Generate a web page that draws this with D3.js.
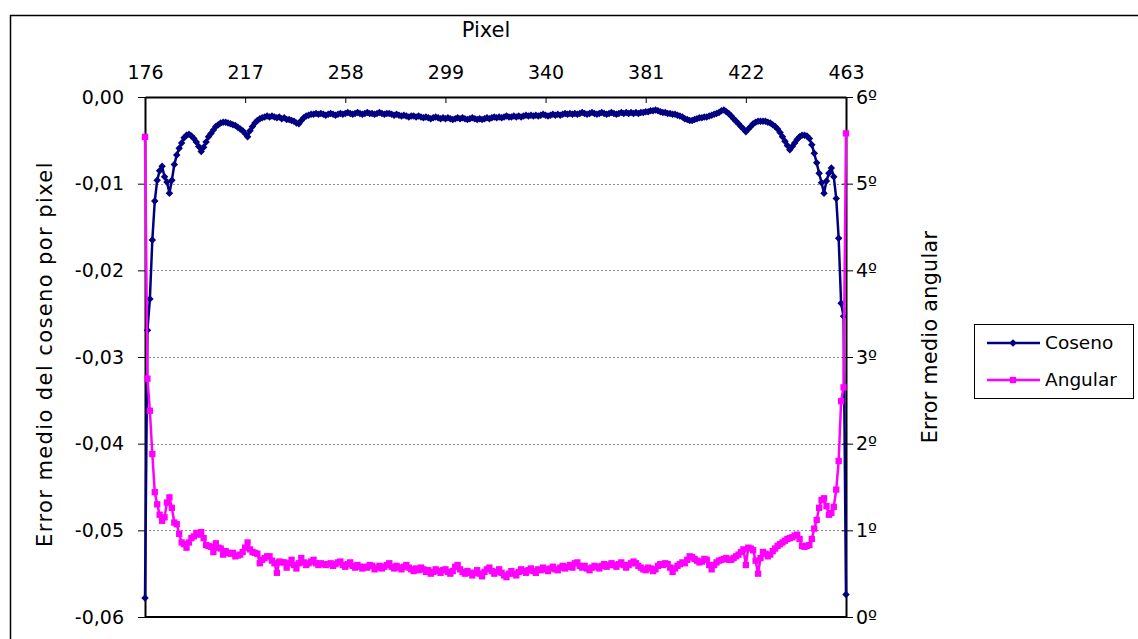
<!DOCTYPE html>
<html>
<head>
<meta charset="utf-8">
<script src="https://cdn.jsdelivr.net/npm/d3@7"></script>
<style>
  body { margin: 0; background: #fff; }
  text { font-family: "DejaVu Sans", Verdana, sans-serif; fill: #000; }
</style>
</head>
<body>
<svg id="chart" width="1138" height="639"></svg>
<script>
// ---------- data ----------
const pixels = d3.range(176, 464);            // 288 categories

const coseno = [
  -0.0578, -0.0269, -0.0233, -0.0165, -0.0120, -0.0096, -0.0085, -0.0080, -0.0092, -0.0098,
  -0.0111, -0.0096, -0.0078, -0.0067, -0.0059, -0.0053, -0.0047, -0.0044, -0.0043, -0.0045,
  -0.0048, -0.0052, -0.0057, -0.0063, -0.0058, -0.0052, -0.0046, -0.0042, -0.0038, -0.0034,
  -0.0032, -0.0030, -0.0029, -0.0029, -0.0030, -0.0031, -0.0032, -0.0033, -0.0035, -0.0037,
  -0.0039, -0.0042, -0.0046, -0.0039, -0.0034, -0.0030, -0.0027, -0.0025, -0.0024, -0.0023,
  -0.0022, -0.0023, -0.0022, -0.0023, -0.0024, -0.0023, -0.0025, -0.0024, -0.0026, -0.0026,
  -0.0027, -0.0028, -0.0030, -0.0031, -0.0027, -0.0024, -0.0022, -0.0021, -0.0020, -0.0020,
  -0.0019, -0.0020, -0.0019, -0.0020, -0.0021, -0.0020, -0.0019, -0.0020, -0.0021, -0.0020,
  -0.0019, -0.0020, -0.0019, -0.0018, -0.0019, -0.0020, -0.0019, -0.0018, -0.0019, -0.0020,
  -0.0019, -0.0018, -0.0019, -0.0019, -0.0020, -0.0019, -0.0018, -0.0019, -0.0020, -0.0019,
  -0.0019, -0.0020, -0.0021, -0.0020, -0.0021, -0.0022, -0.0021, -0.0022, -0.0023, -0.0022,
  -0.0022, -0.0023, -0.0022, -0.0023, -0.0024, -0.0023, -0.0024, -0.0025, -0.0024, -0.0023,
  -0.0024, -0.0025, -0.0024, -0.0025, -0.0024, -0.0025, -0.0026, -0.0025, -0.0024, -0.0025,
  -0.0024, -0.0025, -0.0026, -0.0025, -0.0024, -0.0025, -0.0026, -0.0025, -0.0026, -0.0025,
  -0.0024, -0.0025, -0.0024, -0.0023, -0.0024, -0.0023, -0.0024, -0.0023, -0.0022, -0.0023,
  -0.0023, -0.0022, -0.0023, -0.0022, -0.0023, -0.0022, -0.0021, -0.0022, -0.0021, -0.0022,
  -0.0021, -0.0022, -0.0021, -0.0020, -0.0021, -0.0022, -0.0021, -0.0020, -0.0021, -0.0020,
  -0.0021, -0.0020, -0.0019, -0.0020, -0.0019, -0.0020, -0.0019, -0.0020, -0.0019, -0.0018,
  -0.0019, -0.0020, -0.0019, -0.0018, -0.0019, -0.0020, -0.0019, -0.0018, -0.0019, -0.0020,
  -0.0019, -0.0018, -0.0019, -0.0020, -0.0019, -0.0018, -0.0019, -0.0018, -0.0019, -0.0018,
  -0.0019, -0.0018, -0.0019, -0.0018, -0.0018, -0.0017, -0.0017, -0.0016, -0.0016, -0.0015,
  -0.0016, -0.0017, -0.0018, -0.0018, -0.0019, -0.0019, -0.0020, -0.0020, -0.0021, -0.0022,
  -0.0023, -0.0025, -0.0026, -0.0027, -0.0027, -0.0026, -0.0025, -0.0024, -0.0024, -0.0023,
  -0.0023, -0.0022, -0.0021, -0.0020, -0.0019, -0.0018, -0.0016, -0.0015, -0.0017, -0.0019,
  -0.0022, -0.0025, -0.0028, -0.0031, -0.0034, -0.0037, -0.0040, -0.0037, -0.0034, -0.0031,
  -0.0029, -0.0028, -0.0028, -0.0028, -0.0028, -0.0029, -0.0030, -0.0032, -0.0034, -0.0037,
  -0.0041, -0.0046, -0.0051, -0.0056, -0.0061, -0.0057, -0.0053, -0.0049, -0.0046, -0.0044,
  -0.0044, -0.0045, -0.0048, -0.0055, -0.0065, -0.0076, -0.0088, -0.0099, -0.0111, -0.0097,
  -0.0088, -0.0082, -0.0092, -0.0117, -0.0163, -0.0238, -0.0253, -0.0574
];

const angular = [
  5.54, 2.75, 2.38, 1.88, 1.44, 1.30, 1.18, 1.11, 1.15, 1.32,
  1.38, 1.26, 1.09, 1.07, 0.96, 0.86, 0.84, 0.80, 0.86, 0.91,
  0.93, 0.97, 0.95, 0.98, 0.91, 0.83, 0.82, 0.81, 0.75, 0.85,
  0.80, 0.79, 0.72, 0.76, 0.74, 0.73, 0.74, 0.70, 0.71, 0.72,
  0.75, 0.80, 0.86, 0.78, 0.75, 0.74, 0.73, 0.62, 0.66, 0.68,
  0.70, 0.70, 0.65, 0.62, 0.51, 0.64, 0.63, 0.63, 0.57, 0.62,
  0.66, 0.60, 0.56, 0.62, 0.68, 0.63, 0.60, 0.62, 0.64, 0.66,
  0.62, 0.60, 0.62, 0.61, 0.60, 0.61, 0.62, 0.59, 0.61, 0.63,
  0.64, 0.60, 0.58, 0.61, 0.63, 0.59, 0.57, 0.60, 0.58, 0.56,
  0.58, 0.57, 0.60, 0.59, 0.55, 0.57, 0.59, 0.56, 0.58, 0.60,
  0.62, 0.58, 0.56, 0.59, 0.57, 0.55, 0.58, 0.60, 0.57, 0.55,
  0.53, 0.56, 0.54, 0.57, 0.55, 0.52, 0.54, 0.50, 0.52, 0.55,
  0.53, 0.51, 0.54, 0.55, 0.52, 0.50, 0.53, 0.58, 0.60, 0.55,
  0.52, 0.50, 0.53, 0.51, 0.48, 0.51, 0.54, 0.50, 0.47, 0.52,
  0.55, 0.57, 0.53, 0.50, 0.52, 0.55, 0.51, 0.48, 0.46, 0.50,
  0.53, 0.50, 0.48, 0.52, 0.55, 0.53, 0.51, 0.54, 0.56, 0.53,
  0.51, 0.55, 0.54, 0.57, 0.55, 0.53, 0.56, 0.58, 0.55, 0.54,
  0.57, 0.59, 0.56, 0.58, 0.60, 0.57, 0.62, 0.63, 0.59, 0.57,
  0.59, 0.56, 0.54, 0.57, 0.59, 0.58, 0.56, 0.59, 0.61, 0.58,
  0.60, 0.62, 0.60, 0.58, 0.61, 0.63, 0.60, 0.57, 0.60, 0.62,
  0.64, 0.62, 0.59, 0.57, 0.55, 0.54, 0.57, 0.56, 0.53, 0.55,
  0.59, 0.61, 0.60, 0.62, 0.61, 0.57, 0.52, 0.56, 0.59, 0.61,
  0.63, 0.62, 0.66, 0.70, 0.69, 0.67, 0.65, 0.63, 0.64, 0.67,
  0.66, 0.60, 0.55, 0.60, 0.63, 0.65, 0.66, 0.67, 0.68, 0.66,
  0.66, 0.68, 0.70, 0.72, 0.75, 0.78, 0.60, 0.80, 0.79, 0.77,
  0.65, 0.50, 0.68, 0.75, 0.73, 0.70, 0.72, 0.76, 0.79, 0.82,
  0.84, 0.86, 0.88, 0.90, 0.91, 0.92, 0.94, 0.95, 0.90, 0.82,
  0.81, 0.82, 0.83, 0.90, 1.02, 1.12, 1.26, 1.35, 1.37, 1.28,
  1.18, 1.20, 1.27, 1.47, 1.80, 2.49, 2.65, 5.58
];

const xTicks = [176, 217, 258, 299, 340, 381, 422, 463];
const leftTicks = [0, -0.01, -0.02, -0.03, -0.04, -0.05, -0.06];
const leftLabels = ["0,00", "-0,01", "-0,02", "-0,03", "-0,04", "-0,05", "-0,06"];
const rightTicks = [0, 1, 2, 3, 4, 5, 6];
const rightLabels = ["0º", "1º", "2º", "3º", "4º", "5º", "6º"];
const seriesNames = ["Coseno", "Angular"];

// ---------- setup ----------
const svg = d3.select("#chart");
const plot = { left: 145, right: 846, top: 97, bottom: 617 };
const FS = 19;      // tick labels
const FL = 18.5;    // legend

const x = d3.scaleLinear().domain([176, 463]).range([plot.left, plot.right]);
const yL = d3.scaleLinear().domain([-0.06, 0]).range([plot.bottom, plot.top]);
const yR = d3.scaleLinear().domain([0, 6]).range([plot.bottom, plot.top]);

svg.append("rect").attr("width", 1138).attr("height", 639).attr("fill", "#fff");
// outer chart frame
svg.append("rect")
  .attr("x", 10.5).attr("y", 15.5).attr("width", 1140).attr("height", 640)
  .attr("fill", "none").attr("stroke", "#000").attr("stroke-width", 1.5);

// gridlines
svg.append("g").selectAll("line")
  .data(leftTicks.filter(d => d !== 0 && d !== -0.06))
  .join("line")
  .attr("x1", plot.left).attr("x2", plot.right)
  .attr("y1", d => Math.round(yL(d)) + 0.5).attr("y2", d => Math.round(yL(d)) + 0.5)
  .attr("stroke", "#8c8c8c").attr("stroke-width", 1).attr("stroke-dasharray", "2,2");

// plot border (bottom)
svg.append("line")
  .attr("x1", plot.left).attr("x2", plot.right)
  .attr("y1", plot.bottom).attr("y2", plot.bottom)
  .attr("stroke", "#000").attr("stroke-width", 2);

// ---------- axes ----------
function styleAxis(g) {
  g.select(".domain").attr("stroke", "#000").attr("stroke-width", 2);
  g.selectAll(".tick line").attr("stroke", "#000").attr("stroke-width", 1);
  g.selectAll(".tick text").attr("font-size", FS).attr("fill", "#000")
    .attr("font-family", '"DejaVu Sans", Verdana, sans-serif');
}

const gTop = svg.append("g").attr("transform", `translate(0,${plot.top})`)
  .call(d3.axisTop(x).tickValues(xTicks).tickFormat(d3.format("d"))
    .tickSizeInner(-6).tickSizeOuter(0).tickPadding(18));
styleAxis(gTop);

const gLeft = svg.append("g").attr("transform", `translate(${plot.left},0)`)
  .call(d3.axisLeft(yL).tickValues(leftTicks)
    .tickFormat((d, i) => leftLabels[i]).tickSizeInner(7).tickSizeOuter(0).tickPadding(14));
styleAxis(gLeft);

const gRight = svg.append("g").attr("transform", `translate(${plot.right},0)`)
  .call(d3.axisRight(yR).tickValues(rightTicks)
    .tickFormat((d, i) => rightLabels[i]).tickSizeInner(7).tickSizeOuter(0).tickPadding(3));
styleAxis(gRight);
gRight.selectAll(".tick line").attr("x1", -4);

// axis titles
svg.append("text").attr("x", 486).attr("y", 30).attr("dy", "0.35em")
  .attr("text-anchor", "middle").attr("font-size", 21).text("Pixel");
svg.append("text").attr("transform", "translate(45,354) rotate(-90)").attr("dy", "0.35em")
  .attr("text-anchor", "middle").attr("font-size", 21).attr("letter-spacing", 1.4)
  .text("Error medio del coseno por pixel");
svg.append("text").attr("transform", "translate(930,337) rotate(-90)").attr("dy", "0.35em")
  .attr("text-anchor", "middle").attr("font-size", 20.5).attr("letter-spacing", 0.4)
  .text("Error medio angular");

// ---------- series ----------
const navy = "#000080", magenta = "#FF00FF";
const diamond = d3.symbol().type(d3.symbolSquare).size(28);
const square = d3.symbol().type(d3.symbolSquare).size(40);

const lineL = d3.line().x((d, i) => x(pixels[i])).y(d => yL(d));
const lineR = d3.line().x((d, i) => x(pixels[i])).y(d => yR(d));

svg.append("path").datum(coseno).attr("d", lineL)
  .attr("fill", "none").attr("stroke", navy).attr("stroke-width", 2.5);
svg.append("g").selectAll("path").data(coseno).join("path")
  .attr("d", diamond)
  .attr("transform", (d, i) => `translate(${x(pixels[i])},${yL(d)}) rotate(45)`)
  .attr("fill", navy);

svg.append("path").datum(angular).attr("d", lineR)
  .attr("fill", "none").attr("stroke", magenta).attr("stroke-width", 2.5);
svg.append("g").selectAll("path").data(angular).join("path")
  .attr("d", square)
  .attr("transform", (d, i) => `translate(${x(pixels[i])},${yR(d)})`)
  .attr("fill", magenta);

// ---------- legend ----------
const legend = svg.append("g").attr("transform", "translate(974,324)");
legend.append("rect").attr("x", 0.5).attr("y", 0.5).attr("width", 159).attr("height", 74)
  .attr("fill", "#fff").attr("stroke", "#000").attr("stroke-width", 1);
const colors = [navy, magenta];
const shapes = [diamond, square];
seriesNames.forEach((name, i) => {
  const ly = 19 + i * 37;
  legend.append("line").attr("x1", 13).attr("x2", 66).attr("y1", ly).attr("y2", ly)
    .attr("stroke", colors[i]).attr("stroke-width", 2.5);
  legend.append("path").attr("d", shapes[i])
    .attr("transform", `translate(39,${ly})` + (i === 0 ? " rotate(45)" : ""))
    .attr("fill", colors[i]);
  legend.append("text").attr("x", 71).attr("y", ly).attr("dy", "0.35em")
    .attr("font-size", FL).text(name);
});
</script>
</body>
</html>
